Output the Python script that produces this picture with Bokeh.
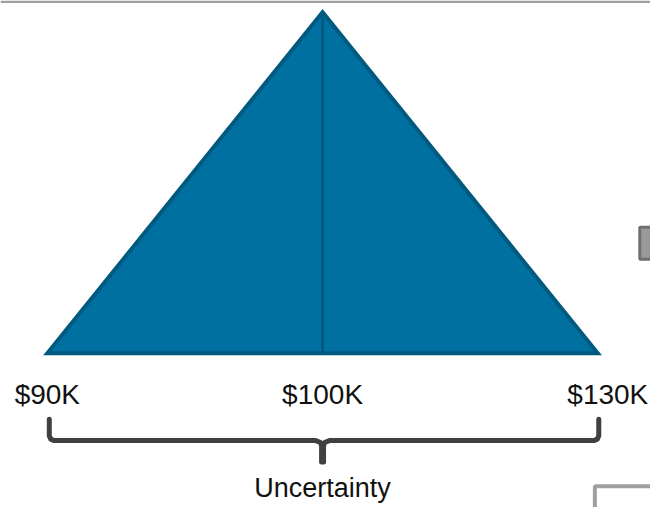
from bokeh.plotting import figure
from bokeh.models import Range1d
from bokeh.core.properties import value
from bokeh.embed import file_html
from bokeh.resources import INLINE

# ---- data ----
categories = ["$90K", "$100K", "$130K"]     # tick labels (min, most likely, max)
positions = [0, 1, 2]                        # schematic positions on the axis
density = [0, 1, 0]                          # triangular distribution heights
brace_label = "Uncertainty"

# ---- layout helpers (reference pixel -> data units) ----
X0, XS = 48.0, 282.0
Y0, YS = 364.0, 352.0
def dx(px):
    return (px - X0) / XS
def dy(py):
    return (Y0 - py) / YS

W, H = 650, 507
p = figure(width=W, height=H, output_backend="svg", toolbar_location=None,
           x_range=Range1d(dx(0), dx(666)), y_range=Range1d(dy(523), dy(0)),
           min_border=0, background_fill_color="white", border_fill_color="white")
p.axis.visible = False
p.grid.visible = False
p.outline_line_color = None

BLUE = "#0070a0"
DARK = "#005a80"
GREY = "#404040"
FONT = value("Liberation Sans")

# top slide rule
p.quad(left=[dx(0)], right=[dx(666)], top=[dy(0)], bottom=[dy(2.5)],
       fill_color="#a0a0a0", line_color=None)

# triangle distribution
p.patch(x=positions, y=density, fill_color=BLUE, line_color=DARK,
        line_width=4, line_join="miter")
mode_i = density.index(max(density))
p.segment(x0=[positions[mode_i]], y0=[0], x1=[positions[mode_i]], y1=[density[mode_i]],
          line_color=DARK, line_width=3)

# tick labels
offsets = [0, 0, 10]
for c, x, o in zip(categories, positions, offsets):
    p.text(x=[x], y=[dy(406)], text=[c], x_offset=o, text_align="center",
           text_baseline="alphabetic", text_font=FONT,
           text_font_size="28px", text_color="#111111")

# brace under the range
xl, xr, xm = positions[0], positions[-1], positions[mode_i]
top_y, bar_y, tip_y = dy(432), dy(454), dy(476)
r = 5 / XS
ry = 5 / YS
bxl = xl + (dx(50) - dx(48))
bxr = xr + (dx(613) - dx(612))
brace_x = [bxl, bxl, bxl + r * 0.3, bxl + r,
           xm - 7 / XS, xm - 2 / XS, xm - 1 / XS, xm - 1 / XS,
           xm + 1 / XS, xm + 1 / XS, xm + 2 / XS, xm + 7 / XS,
           bxr - r, bxr - r * 0.3, bxr, bxr]
brace_y = [top_y, bar_y + ry, bar_y + ry * 0.3, bar_y,
           bar_y, bar_y - 2 / YS, bar_y - 6 / YS, tip_y,
           tip_y, bar_y - 6 / YS, bar_y - 2 / YS, bar_y,
           bar_y, bar_y + ry * 0.3, bar_y + ry, top_y]
p.line(x=brace_x, y=brace_y, line_color=GREY, line_width=5,
       line_join="round", line_cap="round")
p.text(x=[xm], y=[dy(503)], text=[brace_label], text_align="center",
       text_baseline="alphabetic", text_font=FONT,
       text_font_size="27px", text_color="#111111")

# slide fragments at the right edge
p.quad(left=[dx(655)], right=[dx(680)], top=[dy(234)], bottom=[dy(267)],
       fill_color="#9a9a9a", line_color="#707070", line_width=3)
p.quad(left=[dx(609)], right=[dx(700)], top=[dy(501)], bottom=[dy(560)],
       fill_color=None, line_color="#a0a0a0", line_width=4)

open("out.html", "w").write(file_html(p, INLINE))
